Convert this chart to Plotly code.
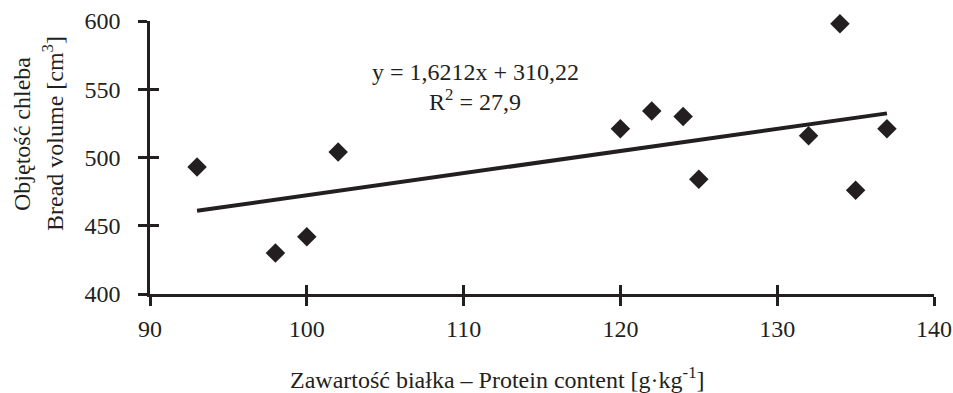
import plotly.graph_objects as go

# Data
protein = [93, 98, 100, 102, 120, 122, 124, 125, 132, 134, 135, 137]
volume = [493, 430, 442, 504, 521, 534, 530, 484, 516, 598, 476, 521]
slope, intercept = 1.6212, 310.22
x_ticks = [90, 100, 110, 120, 130, 140]
y_ticks = [400, 450, 500, 550, 600]
eq_text = "y = 1,6212x + 310,22"
r2_text = "R<sup>2</sup> = 27,9"
x_title = "Zawartość białka – Protein content [g·kg<sup>-1</sup>]"
y_title_1 = "Objętość chleba"
y_title_2 = "Bread volume [cm<sup>3</sup>]"

W, H = 953, 393
L, R, T, B = 150, 19, 21, 99
pw, ph = W - L - R, H - T - B
def px(x):
    return (x - L) / pw
def py(y):
    return 1 - (y - T) / ph

ink = "#231f20"
font = "Liberation Serif, Times New Roman, serif"
fs = 24

x_fit = [min(protein), max(protein)]
y_fit = [slope * v + intercept for v in x_fit]

fig = go.Figure()
fig.add_trace(go.Scatter(x=x_fit, y=y_fit, mode="lines",
                         line=dict(color=ink, width=4), showlegend=False, hoverinfo="skip"))
fig.add_trace(go.Scatter(x=protein, y=volume, mode="markers", cliponaxis=False,
                         marker=dict(symbol="diamond", size=15, color=ink), showlegend=False))
fig.add_trace(go.Scatter(x=[x_ticks[0]], y=[y_ticks[0]], xaxis="x2", yaxis="y2",
                         mode="markers", marker=dict(opacity=0), showlegend=False, hoverinfo="skip"))

axis_common = dict(showgrid=False, zeroline=False, showline=True, linecolor=ink, linewidth=2.5,
                   ticks="outside", ticklen=9, tickwidth=2.5, tickcolor=ink, automargin=False,
                   tickfont=dict(family=font, size=fs, color=ink))
inner_common = dict(showgrid=False, zeroline=False, showline=False, ticks="inside", ticklen=9,
                    tickwidth=2.5, tickcolor=ink, showticklabels=False, automargin=False)
fig.update_layout(
    width=W, height=H, margin=dict(l=L, r=R, t=T, b=B, autoexpand=False),
    paper_bgcolor="white", plot_bgcolor="white",
    xaxis=dict(range=[90, 140], tickvals=x_ticks, ticklabelstandoff=2, **axis_common),
    yaxis=dict(range=[400, 600], tickvals=y_ticks, ticklabelstandoff=13, **axis_common),
    xaxis2=dict(range=[90, 140], tickvals=x_ticks, overlaying="x", anchor="y2", **inner_common),
    yaxis2=dict(range=[400, 600], tickvals=y_ticks, overlaying="y", anchor="x2", **inner_common),
    font=dict(family=font, size=fs, color=ink),
    annotations=[
        dict(text=eq_text, xref="paper", yref="paper", x=px(475), y=py(72), showarrow=False,
             xanchor="center", yanchor="middle", font=dict(family=font, size=fs, color=ink)),
        dict(text=r2_text, xref="paper", yref="paper", x=px(475), y=py(100), showarrow=False,
             xanchor="center", yanchor="middle", font=dict(family=font, size=fs, color=ink)),
        dict(text=x_title, xref="paper", yref="paper", x=px(497), y=py(378), showarrow=False,
             xanchor="center", yanchor="middle", font=dict(family=font, size=fs, color=ink)),
        dict(text=y_title_1, xref="paper", yref="paper", x=px(22), y=py(134), showarrow=False,
             xanchor="center", yanchor="middle",
             textangle=-90, font=dict(family=font, size=fs, color=ink)),
        dict(text=y_title_2, xref="paper", yref="paper", x=px(53), y=py(134), showarrow=False,
             xanchor="center", yanchor="middle",
             textangle=-90, font=dict(family=font, size=fs, color=ink)),
    ],
)
fig.write_html("out.html")
